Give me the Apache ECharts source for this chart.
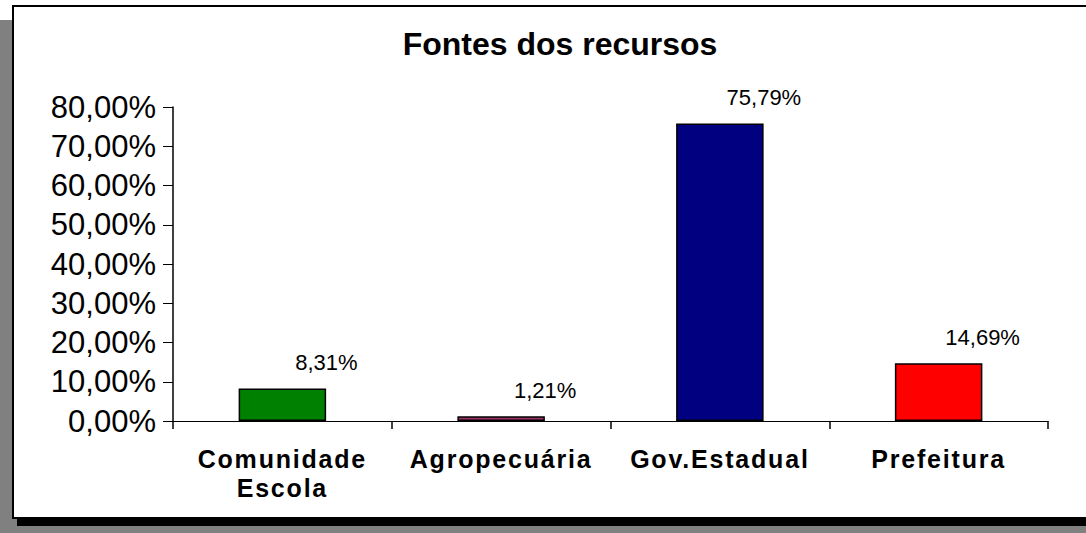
<!DOCTYPE html>
<html>
<head>
<meta charset="utf-8">
<script src="https://cdn.jsdelivr.net/npm/echarts@6/dist/echarts.min.js"></script>
<style>
  html, body { margin: 0; padding: 0; background: #fff; }
  #chart { width: 1086px; height: 533px; }
  /* category labels are letter-spaced in the original */
  #chart text[style*="Arial"] { letter-spacing: 1.8px; }
</style>
</head>
<body>
<div id="chart"></div>
<script>
// data
var categories = ['Comunidade\nEscola', 'Agropecuária', 'Gov.Estadual', 'Prefeitura'];
var values = [8.31, 1.21, 75.79, 14.69];
var barColors = ['#008000', '#993366', '#000080', '#ff0000'];
var yTicks = [0, 10, 20, 30, 40, 50, 60, 70, 80];

function pct(v) {
	return v.toFixed(2).replace('.', ',') + '%';
}

var chart = echarts.init(document.getElementById('chart'), null, {renderer: 'svg'});

chart.setOption({
	animation: false,
	backgroundColor: '#fff',
	graphic: [
		// page background + frame shadow
		{type: 'rect', silent: true, z: -10, shape: {x: 0, y: 20, width: 13, height: 513}, style: {fill: '#808080'}},
		{type: 'rect', silent: true, z: -10, shape: {x: 0, y: 526, width: 1086, height: 7}, style: {fill: '#808080'}},
		{type: 'rect', silent: true, z: -10, shape: {x: 0, y: 518, width: 17, height: 8}, style: {fill: '#808080'}},
		{type: 'rect', silent: true, z: -10, shape: {x: 17, y: 518, width: 1069, height: 8}, style: {fill: '#000'}},
		{type: 'rect', silent: true, z: -9, shape: {x: 13, y: 6, width: 1090, height: 512}, style: {fill: '#fff', stroke: '#000', lineWidth: 2}}
	],
	title: {
		text: 'Fontes dos recursos',
		left: 555,
		top: 23,
		textAlign: 'center',
		textStyle: {
			fontFamily: 'Liberation Sans',
			fontSize: 32,
			fontWeight: 'bold',
			color: '#000'
		}
	},
	grid: {
		left: 173,
		right: 38,
		top: 107,
		bottom: 112,
		containLabel: false
	},
	xAxis: {
		type: 'category',
		data: categories,
		axisLine: {lineStyle: {color: '#000', width: 1}},
		axisTick: {show: true, length: 8, lineStyle: {color: '#000', width: 1.5}},
		axisLabel: {
			interval: 0,
			margin: 23,
			color: '#000',
			fontFamily: 'Arial, Liberation Sans',
			fontSize: 25,
			fontWeight: 'bold',
			lineHeight: 29
		}
	},
	yAxis: {
		type: 'value',
		min: yTicks[0],
		max: yTicks[yTicks.length - 1],
		interval: 10,
		splitLine: {show: false},
		axisLine: {show: true, lineStyle: {color: '#000', width: 1.5}},
		axisTick: {show: true, length: 10, lineStyle: {color: '#000', width: 1}},
		axisLabel: {
			margin: 17,
			color: '#000',
			fontFamily: 'Liberation Sans',
			fontSize: 31,
			formatter: function (v) { return pct(v); }
		}
	},
	series: [{
		type: 'bar',
		barWidth: '40%',
		data: values.map(function (v, i) {
			return {value: v, itemStyle: {color: barColors[i]}};
		}),
		itemStyle: {borderColor: '#000', borderWidth: 1.5},
		label: {
			show: true,
			position: 'top',
			offset: [44, -10],
			color: '#000',
			fontFamily: 'Liberation Sans',
			fontSize: 22,
			formatter: function (p) { return pct(p.value); }
		}
	}]
});
</script>
</body>
</html>
